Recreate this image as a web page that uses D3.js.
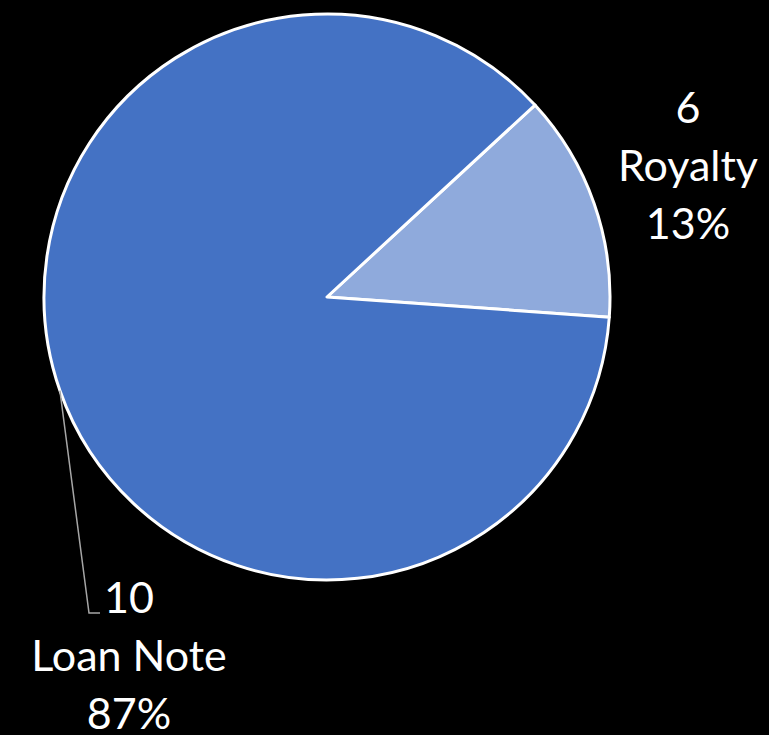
<!DOCTYPE html>
<html>
<head>
<meta charset="utf-8">
<script src="https://cdn.jsdelivr.net/npm/d3@7"></script>
<style>
  html, body { margin: 0; padding: 0; background: #000; }
  svg { display: block; }
  text { font-family: Lato, "Open Sans", sans-serif; fill: #fff; }
</style>
</head>
<body>
<svg id="chart" width="769" height="735"></svg>
<script>
// Slice data
const categories = ["Royalty", "Loan Note"];
const shares = [13, 87];          // percent of total
const tags = ["6", "10"];          // number shown above each category name
const colors = ["#8FAADC", "#4472C4"];

const W = 769, H = 735;
const cx = 327, cy = 297, R = 283;
const startDeg = 47.3;

const svg = d3.select("#chart");
svg.append("rect").attr("width", W).attr("height", H).attr("fill", "#000");

const pie = d3.pie()
  .sort(null)
  .value(d => d.value)
  .startAngle(startDeg * Math.PI / 180)
  .endAngle(startDeg * Math.PI / 180 + 2 * Math.PI);

const data = categories.map((c, i) => ({ name: c, value: shares[i], tag: tags[i], color: colors[i] }));
const arcs = pie(data);

const arc = d3.arc().innerRadius(0).outerRadius(R);
const g = svg.append("g").attr("transform", `translate(${cx},${cy})`);

g.selectAll("path.slice")
  .data(arcs)
  .join("path")
  .attr("class", "slice")
  .attr("d", arc)
  .attr("fill", d => d.data.color)
  .attr("stroke", "#fff")
  .attr("stroke-width", 3)
  .attr("stroke-linejoin", "round");

// Label placement for each slice (relative to the pie centre)
const labelPos = [
  { x: 361, y: -174, leader: null },
  { x: -198, y: 316, leader: [-238, 316, -227, 316] }
];
const lineGap = 58;

arcs.forEach((a, i) => {
  const p = labelPos[i];
  if (p.leader) {
    const mid = (a.startAngle + a.endAngle) / 2;
    const sx = Math.sin(mid) * R, sy = -Math.cos(mid) * R;
    g.append("path")
      .attr("d", `M${sx},${sy}L${p.leader[0]},${p.leader[1]}L${p.leader[2]},${p.leader[3]}`)
      .attr("fill", "none")
      .attr("stroke", "#a6a6a6")
      .attr("stroke-width", 1.5);
  }
  const lines = [a.data.tag, a.data.name, d3.format(".0%")(a.data.value / 100)];
  const t = g.append("text")
    .attr("text-anchor", "middle")
    .attr("font-size", 43);
  lines.forEach((s, k) => {
    t.append("tspan")
      .attr("x", p.x)
      .attr("y", p.y + k * lineGap)
      .text(s);
  });
});
</script>
</body>
</html>
